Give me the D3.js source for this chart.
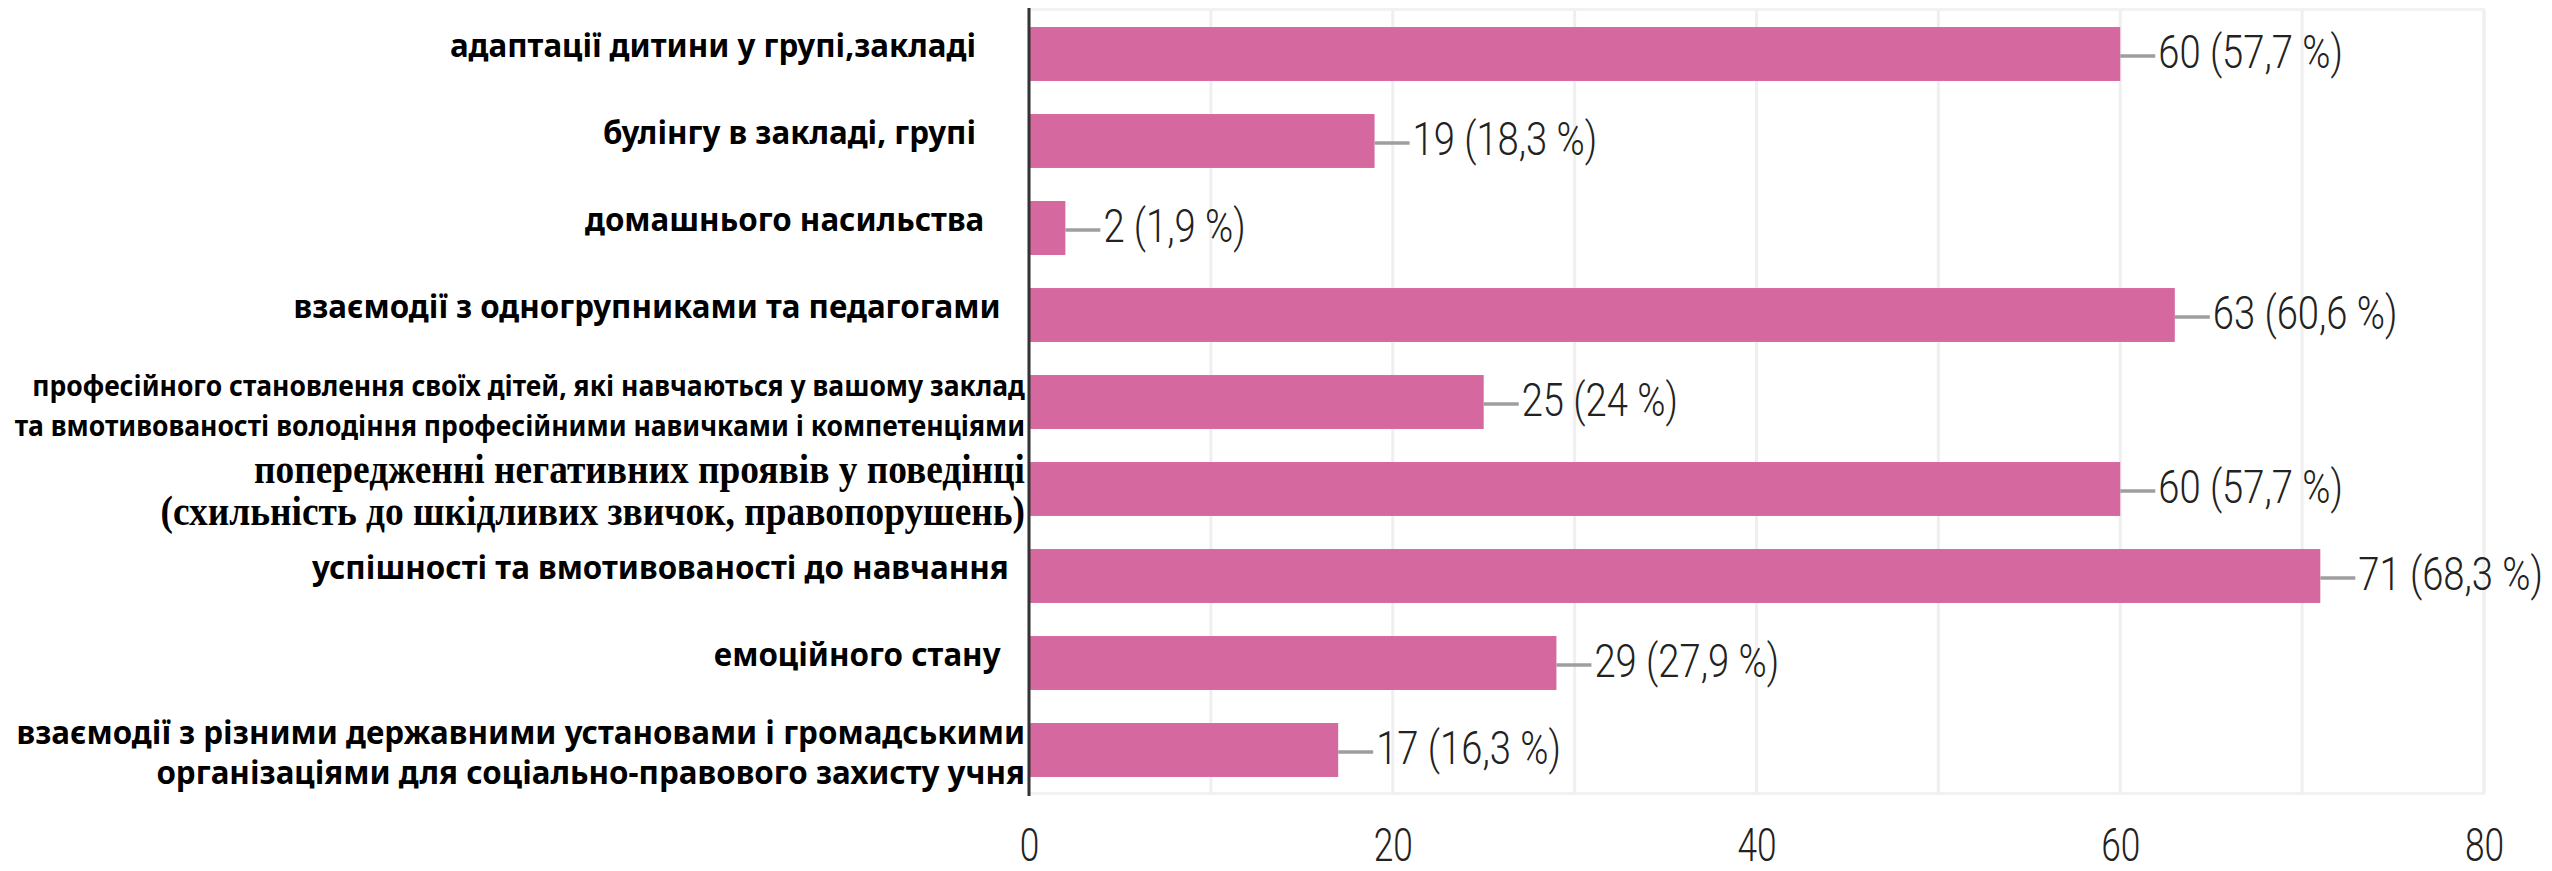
<!DOCTYPE html>
<html>
<head>
<meta charset="utf-8">
<script src="https://cdn.jsdelivr.net/npm/d3@7"></script>
<style>
    body { margin: 0; background: #fff; }
    svg { display: block; }
    .cat { font-family: "Noto Sans", sans-serif; font-weight: bold; fill: #000; white-space: pre; }
    .cat.serif { font-family: "Liberation Serif", serif; }
    .val { font-family: Roboto, sans-serif; font-weight: 300; fill: #222; }
    .tick text { font-family: Roboto, sans-serif; font-weight: 300; fill: #222; }
</style>
</head>
<body>
<div class="chart"></div>
<script>

// Category labels (lines), counts and percentage labels, top to bottom
var categories = [
    ["адаптації дитини у групі,закладі\u00a0\u00a0\u00a0\u00a0\u00a0\u00a0"],
    ["булінгу в закладі, групі\u00a0\u00a0\u00a0\u00a0\u00a0\u00a0"],
    ["домашнього насильства\u00a0\u00a0\u00a0\u00a0\u00a0"],
    ["взаємодії з одногрупниками та педагогами\u00a0\u00a0\u00a0"],
    ["професійного становлення своїх дітей, які навчаються у вашому заклад",
     "та вмотивованості володіння професійними навичками і компетенціями"],
    ["попередженні негативних проявів у поведінці",
     "(схильність до шкідливих звичок, правопорушень)"],
    ["успішності та вмотивованості до навчання\u00a0\u00a0"],
    ["емоційного стану\u00a0\u00a0\u00a0"],
    ["взаємодії з різними державними установами і громадськими",
     "організаціями для соціально-правового захисту учня"]
];
var counts = [60, 19, 2, 63, 25, 60, 71, 29, 17];
var percents = ["57,7", "18,3", "1,9", "60,6", "24", "57,7", "68,3", "27,9", "16,3"];
var xTicks = [0, 20, 40, 60, 80];
var gridTicks = [10, 20, 30, 40, 50, 60, 70, 80];

var width = 2552, height = 871;
var plot = { left: 1029, right: 2484, top: 10.5, bottom: 793.5 };
var barColor = "#d5689f";

var svg = d3.select(".chart")
    .append("svg")
        .attr("width", width)
        .attr("height", height);

var x = d3.scaleLinear()
    .domain([0, 80])
    .range([plot.left, plot.right]);

var y = d3.scaleBand()
    .domain(d3.range(categories.length))
    .range([plot.top, plot.bottom])
    .paddingInner(0.38)
    .paddingOuter(0.19);

// Plot frame
svg.append("rect")
    .attr("x", plot.left)
    .attr("y", plot.top - 1)
    .attr("width", plot.right - plot.left)
    .attr("height", plot.bottom - plot.top + 1)
    .style("fill", "none")
    .style("stroke", "#f2f2f2")
    .style("stroke-width", 3);

// Vertical grid lines
svg.append("g")
    .selectAll("line")
    .data(gridTicks)
    .enter()
    .append("line")
        .attr("x1", function(d) { return x(d); })
        .attr("x2", function(d) { return x(d); })
        .attr("y1", plot.top)
        .attr("y2", plot.bottom)
        .style("stroke", "#efefef")
        .style("stroke-width", 3);

// Bars
svg.append("g")
    .selectAll("rect")
    .data(counts)
    .enter()
    .append("rect")
        .attr("x", x(0))
        .attr("y", function(d, i) { return y(i); })
        .attr("width", function(d) { return x(d) - x(0); })
        .attr("height", y.bandwidth())
        .style("fill", barColor);

// Leader lines and value labels
var vals = svg.append("g")
    .selectAll("g")
    .data(counts)
    .enter()
    .append("g");

vals.append("line")
    .attr("x1", function(d) { return x(d); })
    .attr("x2", function(d) { return x(d) + 35; })
    .attr("y1", function(d, i) { return y(i) + y.bandwidth() / 2 + 2; })
    .attr("y2", function(d, i) { return y(i) + y.bandwidth() / 2 + 2; })
    .style("stroke", "#9e9e9e")
    .style("stroke-width", 3.5);

vals.append("text")
    .attr("class", "val")
    .attr("transform", function(d, i) {
        return "translate(" + (x(d) + 38) + "," + (y(i) + y.bandwidth() / 2 + 14) + ") scale(0.83,1)";
    })
    .style("font-size", "46px")
    .text(function(d, i) { return d + " (" + percents[i] + " %)"; });

// Left axis line
svg.append("line")
    .attr("x1", x(0))
    .attr("x2", x(0))
    .attr("y1", 8)
    .attr("y2", 796)
    .style("stroke", "#333")
    .style("stroke-width", 3);

// Category labels: row 5 is set smaller, row 6 in a serif face
var catSize = function(i) { return i == 4 ? 28.5 : i == 5 ? 42 : 33; };
var catScale = function(i) { return i == 4 ? 0.93 : i == 5 ? 0.89 : 0.95; };

svg.append("g")
    .selectAll("g")
    .data(categories)
    .enter()
    .append("g")
    .each(function(lines, i) {
        var cy = y(i) + y.bandwidth() / 2;
        var first = lines.length == 1 ? cy + 3 : cy - 6;
        var lh = i == 5 ? 42 : 40;
        d3.select(this).selectAll("text")
            .data(lines)
            .enter()
            .append("text")
                .attr("class", i == 5 ? "cat serif" : "cat")
                .attr("text-anchor", "end")
                .attr("transform", function(d, j) {
                    return "translate(1025," + (first + j * lh) + ") scale(" + catScale(i) + ",1)";
                })
                .style("font-size", catSize(i) + "px")
                .text(function(d) { return d; });
    });

// Bottom axis labels
var xAxis = d3.axisBottom(x)
    .tickValues(xTicks)
    .tickSize(0)
    .tickPadding(0);

var gx = svg.append("g")
    .call(xAxis);

gx.select(".domain").remove();
gx.selectAll(".tick text")
    .attr("y", 861)
    .attr("dy", 0)
    .attr("transform", "scale(0.75,1)")
    .style("font-size", "47px");

</script>
</body>
</html>
